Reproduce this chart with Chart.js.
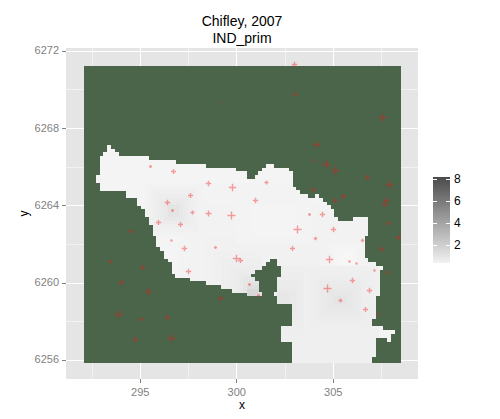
<!DOCTYPE html>
<html>
<head>
<meta charset="utf-8">
<style>
  html, body { margin: 0; padding: 0; background: #fff; }
  canvas { display: block; }
</style>
<script src="https://cdn.jsdelivr.net/npm/chart.js@4/dist/chart.umd.js"></script>
</head>
<body>
<canvas id="chart" width="500" height="419"></canvas>
<script>
const titleLines = ['Chifley, 2007', 'IND_prim']
const xTicks = [292.5, 295, 297.5, 300, 302.5, 305, 307.5]
const yTicks = [6256, 6258, 6260, 6262, 6264, 6266, 6268, 6270, 6272]
const xLabelled = [295, 300, 305]
const yLabelled = [6256, 6260, 6264, 6268, 6272]
const legendTicks = [8, 6, 4, 2]

// outer box of the grid, km
const boxX = [292.08, 308.51, 308.51, 292.08, 292.08]
const boxY = [6271.24, 6271.24, 6255.86, 6255.86, 6271.24]

// grid cells: centre of column 0 and row 0, spacing in km
const gridX0 = 292.215
const gridY0 = 6270.967
const gridStep = 0.1959
const firstRow = 20

// one entry per row from firstRow down: from,to column pairs (to is exclusive)
const rowRuns = [
  [6, 7], [6, 8], [5, 9], [4, 17], [4, 24],
  [4, 32, 48, 50], [4, 40, 47, 54], [4, 43, 46, 55], [3, 43, 45, 55], [3, 55],
  [4, 55], [4, 56], [11, 57], [11, 59, 61, 62], [14, 63],
  [14, 64], [15, 65], [16, 66], [16, 66], [17, 67, 71, 75],
  [17, 75], [18, 75], [18, 75], [18, 75], [19, 74],
  [19, 74], [19, 74], [20, 74], [21, 74], [21, 74],
  [22, 49, 51, 75], [23, 48, 51, 77], [23, 47, 52, 79], [23, 45, 52, 78], [24, 44, 52, 78],
  [28, 45, 51, 78], [32, 46, 51, 78], [36, 46, 51, 78], [39, 46, 51, 78], [43, 47, 50, 78],
  [51, 77], [51, 77], [55, 77], [55, 77], [55, 77],
  [55, 77], [55, 76], [55, 76], [52, 79], [52, 82],
  [52, 81], [52, 77, 80, 81], [55, 77], [55, 77], [55, 77],
  [55, 77], [55, 76], [55, 76]
]

// IND_prim read off the shading: value over the whole area, then patches
// rowFrom, rowTo, colFrom, colTo, value. later patches win
const baseValue = 0.2
const valuePatches = [
  [30, 78, 25, 78, 0.24], [36, 78, 28, 78, 0.28], [44, 78, 32, 78, 0.32], [52, 78, 40, 78, 0.36], [60, 78, 50, 78, 0.4], [66, 78, 50, 78, 0.44],
  [34, 46, 40, 60, 0.24], [36, 44, 44, 56, 0.2],
  [44, 56, 62, 76, 0.3], [46, 54, 64, 74, 0.22], [47, 53, 66, 72, 0.15], [48, 52, 67, 71, 0.08],
  [30, 44, 16, 31, 0.28], [31, 43, 17, 30, 0.36], [32, 42, 18, 29, 0.44], [33, 41, 19, 28, 0.52], [34, 41, 20, 27, 0.62], [35, 40, 21, 26, 0.76], [36, 39, 22, 25, 0.95],
  [48, 60, 34, 47, 0.4], [50, 60, 36, 47, 0.46], [52, 60, 38, 47, 0.54], [53, 60, 40, 47, 0.62], [54, 60, 41, 47, 0.72], [55, 60, 42, 47, 0.85], [56, 60, 43, 47, 1], [57, 60, 43, 47, 1.2], [58, 60, 43, 46, 1.5],
  [52, 70, 51, 60, 0.46], [54, 68, 51, 58, 0.54], [56, 66, 51, 57, 0.62], [58, 64, 51, 56, 0.7], [59, 62, 51, 54, 0.8],
  [52, 70, 58, 77, 0.42], [53, 69, 59, 76, 0.48], [55, 67, 61, 74, 0.54], [56, 66, 62, 73, 0.6], [57, 65, 63, 72, 0.66], [58, 64, 64, 71, 0.74], [59, 63, 65, 70, 0.82], [60, 62, 66, 69, 0.95]
]

const stationX = [299.17, 295.52, 296.71, 298.52, 299.79, 297.59, 296.40, 300.99, 302.98, 303.02, 307.56, 304.12, 304.00, 304.67, 305.09, 306.75, 307.92, 303.98, 305.54, 305.09, 307.78, 307.66, 301.55, 296.66, 297.72, 298.54, 299.75, 295.93, 297.07, 294.55, 296.64, 297.30, 298.92, 293.43, 299.97, 300.18, 295.10, 297.51, 294.05, 300.65, 295.41, 299.18, 301.14, 293.88, 296.40, 295.00, 294.76, 296.63, 303.76, 304.43, 307.87, 308.37, 303.17, 305.02, 304.07, 306.52, 307.49, 302.88, 304.81, 305.83, 306.19, 307.11, 307.82, 306.00, 304.69, 306.90, 305.38, 306.66, 307.35]
const stationY = [6269.38, 6266.01, 6265.79, 6265.17, 6264.96, 6264.54, 6264.18, 6264.29, 6271.33, 6269.78, 6268.56, 6267.19, 6266.37, 6266.15, 6265.84, 6265.48, 6265.11, 6264.86, 6264.49, 6264.29, 6264.29, 6264.09, 6265.22, 6263.78, 6263.66, 6263.61, 6263.51, 6263.15, 6263.04, 6262.68, 6262.21, 6261.80, 6261.85, 6261.13, 6261.28, 6261.18, 6260.82, 6260.61, 6260.04, 6259.94, 6259.57, 6259.21, 6259.33, 6258.38, 6258.23, 6258.12, 6257.09, 6257.14, 6263.54, 6263.56, 6263.07, 6262.37, 6262.78, 6262.78, 6262.30, 6262.21, 6261.75, 6261.80, 6261.23, 6261.13, 6260.99, 6260.66, 6260.54, 6260.14, 6259.73, 6259.63, 6259.11, 6258.64, 6258.38]
const stationValue = [0.44, 1, 2.8, 3.2, 6, 2.8, 3.2, 3.2, 3.2, 2.2, 7.1, 5.4, 0.64, 7.1, 7.1, 2.8, 7.1, 2.2, 2.8, 2.2, 3.2, 2.8, 1.8, 1, 1.8, 4, 7.1, 2.8, 2.8, 2.2, 0.64, 3.2, 1, 1.8, 6, 2.8, 2.8, 3.2, 3.2, 1, 5.4, 2.8, 1, 7.1, 2.8, 2.2, 3.2, 7.1, 1, 3.2, 1.8, 2.8, 7.1, 3.2, 1.3, 1.3, 2.8, 2.8, 6, 0.64, 0.64, 0.64, 1.3, 3.2, 7.1, 3.2, 1.8, 2.8, 0.64]

const font = '"Liberation Sans", Arial, sans-serif'

const valueColor = (v) => {
  const g = Math.round(248 - v * 21.2)
  return `rgb(${g},${g},${g})`
}

const valueAt = (row, col) => {
  let v = baseValue
  valuePatches.forEach((p) => {
    if (row >= p[0] && row < p[1] && col >= p[2] && col < p[3]) v = p[4]
  })
  return v
}

const cells = []
rowRuns.forEach((runs, i) => {
  const row = firstRow + i
  for (let r = 0; r < runs.length; r += 2) {
    for (let col = runs[r]; col < runs[r + 1]; col++) {
      cells.push({ x: gridX0 + col * gridStep, y: gridY0 - row * gridStep, v: valueAt(row, col) })
    }
  }
})

// grey panel, pixel snapped raster and the colour bar
const panelPlugin = {
  id: 'panel',
  beforeDraw (chart) {
    const { ctx, chartArea: a } = chart
    ctx.save()
    ctx.fillStyle = '#fff'
    ctx.fillRect(0, 0, chart.width, chart.height)
    ctx.fillStyle = '#e5e5e5'
    ctx.fillRect(a.left, a.top, a.right - a.left, a.bottom - a.top)
    ctx.restore()
  },
  afterDatasetsUpdate (chart) {
    const box = chart.getDatasetMeta(2).data
    box.forEach((el) => {
      el.x = Math.round(el.x)
      el.y = Math.round(el.y)
    })
    const boxBottom = Math.max(...box.map((el) => el.y))
    chart.getDatasetMeta(1).data.forEach((el) => {
      el.x = Math.round(el.x)
      el.y = Math.min(Math.round(el.y), boxBottom - 2)
    })
    chart.getDatasetMeta(0).data.forEach((el) => {
      el.x = Math.floor(el.x) + 0.5
      el.y = Math.floor(el.y) + 0.5
    })
  },
  afterDraw (chart) {
    const ctx = chart.ctx
    const barLeft = 433
    const barWidth = 17
    const barTop = 177
    const barBottom = 263
    const unit = 10.95
    const yOf = (v) => 244.5 - (v - 2) * unit
    ctx.save()
    for (let y = barTop; y < barBottom; y++) {
      ctx.fillStyle = valueColor(2 + (244.5 - y - 0.5) / unit)
      ctx.fillRect(barLeft, y, barWidth, 1)
    }
    ctx.font = '12px ' + font
    ctx.textBaseline = 'middle'
    legendTicks.forEach((t) => {
      const y = Math.round(yOf(t))
      ctx.fillStyle = '#fff'
      ctx.fillRect(barLeft, y, 4, 1)
      ctx.fillRect(barLeft + barWidth - 4, y, 4, 1)
      ctx.fillStyle = '#000'
      ctx.fillText(String(t), 454, y + 1)
    })
    ctx.restore()
  }
}

const axis = (min, max, ticks, labelled, size, titleText, titlePadding) => ({
  type: 'linear',
  min: min,
  max: max,
  afterBuildTicks: (s) => { s.ticks = ticks.map((v) => ({ value: v })) },
  afterFit: (s) => { size(s) },
  border: { display: false },
  grid: {
    color: '#fff',
    lineWidth: (c) => labelled.includes(c.tick.value) ? 1 : 0.5,
    tickColor: (c) => labelled.includes(c.tick.value) ? '#7f7f7f' : 'rgba(0,0,0,0)',
    tickLength: 4,
    tickWidth: 1
  },
  ticks: {
    autoSkip: false,
    maxRotation: 0,
    padding: 3,
    color: '#7f7f7f',
    font: { family: font, size: 11 },
    callback: (v) => labelled.includes(v) ? String(v) : ''
  },
  title: {
    display: true,
    text: titleText,
    color: '#000',
    font: { family: font, size: 12 },
    padding: titlePadding
  }
})

// opaque canvas so the text gets the same subpixel rendering as the picture
document.getElementById('chart').getContext('2d', { alpha: false })

new Chart(document.getElementById('chart'), {
  type: 'scatter',
  data: {
    datasets: [
      {
        label: 'stations',
        order: 0,
        data: stationX.map((x, i) => ({ x: x, y: stationY[i], v: stationValue[i] })),
        pointStyle: 'cross',
        pointRadius: (c) => 1.5 * Math.sqrt(c.raw ? c.raw.v : 1),
        pointBorderWidth: 1.4,
        pointBorderColor: 'rgba(245,20,20,0.4)',
        pointBackgroundColor: 'rgba(0,0,0,0)'
      },
      {
        label: 'IND_prim',
        order: 1,
        data: cells,
        pointStyle: 'rect',
        pointRadius: 2 * Math.SQRT2,
        pointBorderWidth: 0,
        pointBackgroundColor: (c) => valueColor(c.raw ? c.raw.v : 0)
      },
      {
        label: 'outside',
        order: 2,
        data: boxX.map((x, i) => ({ x: x, y: boxY[i] })),
        showLine: true,
        fill: 'shape',
        backgroundColor: '#4a6549',
        borderWidth: 0,
        pointRadius: 0
      }
    ]
  },
  options: {
    responsive: false,
    animation: false,
    events: [],
    layout: { padding: { left: 0, right: 82, top: 0, bottom: 0 } },
    plugins: {
      legend: { display: false },
      tooltip: { enabled: false },
      title: {
        display: true,
        fullSize: false,
        text: titleLines,
        color: '#000',
        font: { family: font, size: 14, weight: 'normal', lineHeight: 1.2 },
        padding: { top: 14, bottom: 0.4 }
      }
    },
    scales: {
      x: axis(291.15, 309.39, xTicks, xLabelled, (s) => { s.height = 40 }, 'x', { top: 0, bottom: 6 }),
      y: axis(6255.03, 6272.17, yTicks, yLabelled, (s) => { s.width = 66 }, 'y', { top: 17, bottom: 0 })
    }
  },
  plugins: [panelPlugin]
})
</script>
</body>
</html>
